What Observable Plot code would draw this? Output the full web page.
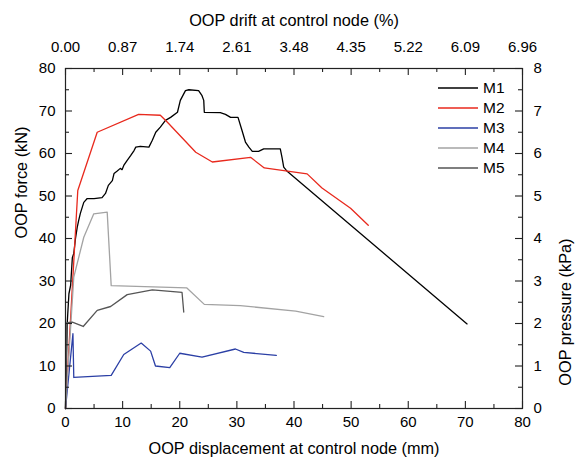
<!DOCTYPE html>
<html>
<head>
<meta charset="utf-8">
<script src="https://cdn.jsdelivr.net/npm/d3@7"></script>
<script src="https://cdn.jsdelivr.net/npm/@observablehq/plot@0.6"></script>
<style>
  html, body { margin: 0; padding: 0; background: #fff; }
  #wrap { position: relative; width: 575px; height: 464px; font-family: "Liberation Sans", Arial, sans-serif; }
  #legend { position: absolute; left: 438px; top: 78px; font-size: 15.5px; color: #000; }
  .row { display: flex; align-items: center; height: 20px; }
  .row svg { margin-right: 5px; }
</style>
</head>
<body>
<div id="wrap"><div id="legend"></div></div>
<script>
// ---- Data ----
const seriesNames = ["M1", "M2", "M3", "M4", "M5"];
const seriesColors = ["#000000", "#e8291d", "#2b3fa5", "#a3a3a3", "#555555"];

const m1Disp  = [0, 0.3, 0.4, 0.6, 0.9, 1.2, 1.45, 1.75, 2.05, 2.3, 2.6, 3.2, 3.8, 5.0, 6.4, 7.0, 7.5, 8.2, 8.5, 9.0, 9.6, 9.9, 10.2, 10.8, 11.4, 12.0, 12.3, 13.1, 14.6, 15.2, 15.8, 16.6, 17.5, 18.4, 19.6, 20.1, 21.0, 21.6, 23.3, 23.9, 24.2, 24.3, 27.1, 28.0, 28.9, 30.2, 30.9, 31.5, 32.1, 32.7, 33.8, 34.7, 37.6, 37.9, 38.2, 38.8, 70.3];
const m1Force = [0, 20, 22.4, 27, 29, 35.5, 36.5, 40, 42.6, 44.2, 45.9, 48.5, 49.4, 49.4, 49.6, 50.6, 52.5, 53.6, 55.3, 55.8, 56.5, 56.2, 57.2, 58.4, 59.5, 60.7, 61.5, 61.7, 61.5, 63.1, 65.0, 66.2, 67.8, 68.5, 69.7, 72.5, 74.8, 75.0, 74.8, 73.6, 72.5, 69.7, 69.6, 69.2, 68.5, 68.5, 65.4, 62.7, 61.5, 60.5, 60.5, 61.1, 61.1, 59.1, 56.8, 55.8, 19.9];

const m2Disp  = [0, 2.15, 5.55, 12.8, 16.6, 17.8, 22.8, 25.7, 32.4, 34.8, 42.3, 44.9, 49.9, 53.0];
const m2Force = [0, 51.3, 65.0, 69.2, 69.0, 67.4, 60.3, 58.0, 59.1, 56.6, 55.2, 51.9, 47.1, 43.1];

const m3Disp  = [0, 1.3, 1.45, 8.0, 10.2, 13.25, 14.9, 15.75, 18.25, 20.0, 23.9, 29.75, 31.2, 36.9];
const m3Force = [0, 17.6, 7.3, 7.8, 12.7, 15.4, 13.5, 10.0, 9.6, 13.0, 12.1, 14.0, 13.2, 12.5];

const m4Disp  = [0, 1.45, 3.2, 4.95, 7.3, 8.0, 21.2, 24.3, 30.6, 40.3, 45.2];
const m4Force = [0, 30.9, 40.3, 45.8, 46.2, 28.9, 28.4, 24.5, 24.2, 22.9, 21.6];

const m5Disp  = [0, 0.25, 1.2, 3.1, 5.55, 7.9, 10.8, 15.2, 20.4, 20.7];
const m5Force = [0, 20.2, 20.3, 19.3, 23.1, 24.0, 26.8, 27.9, 27.3, 22.7];

// ---- Axes / tick labels ----
const xMajor = [0, 10, 20, 30, 40, 50, 60, 70, 80];
const xMinor = [5, 15, 25, 35, 45, 55, 65, 75];
const yMajor = [0, 10, 20, 30, 40, 50, 60, 70, 80];
const yMinor = [5, 15, 25, 35, 45, 55, 65, 75];
const bottomLabels = ["0", "10", "20", "30", "40", "50", "60", "70", "80"];
const topLabels = ["0.00", "0.87", "1.74", "2.61", "3.48", "4.35", "5.22", "6.09", "6.96"];
const leftLabels = ["0", "10", "20", "30", "40", "50", "60", "70", "80"];
const rightLabels = ["0", "1", "2", "3", "4", "5", "6", "7", "8"];
const xTitle = "OOP displacement at control node (mm)";
const topTitle = "OOP drift at control node (%)";
const yTitle = "OOP force (kN)";
const rightTitle = "OOP pressure (kPa)";

// ---- Build table ----
const seriesX = [m1Disp, m2Disp, m3Disp, m4Disp, m5Disp];
const seriesY = [m1Force, m2Force, m3Force, m4Force, m5Force];
const rows = [];
seriesNames.forEach((name, s) => {
  seriesX[s].forEach((x, i) => rows.push({series: name, x, y: seriesY[s][i]}));
});

const W = 575, H = 464, mL = 65, mR = 53, mT = 68, mB = 56;
const innerW = W - mL - mR, innerH = H - mT - mB;
const majorLen = 7, minorLen = 4;
const axisColor = "#222";
const tickFont = 15, titleFont = 16.3;

const fmt = (ticks, labels) => d => labels[ticks.indexOf(d)];

const chart = Plot.plot({
  width: W, height: H,
  marginLeft: mL, marginRight: mR, marginTop: mT, marginBottom: mB,
  style: {fontFamily: '"Liberation Sans", Arial, sans-serif', fontSize: "15px", color: "#000", background: "transparent", overflow: "visible"},
  x: {domain: [0, 80]},
  y: {domain: [0, 80]},
  color: {domain: seriesNames, range: seriesColors},
  marks: [
    // lines
    Plot.line(rows, {x: "x", y: "y", z: "series", stroke: "series", strokeWidth: 1.3, strokeLinejoin: "round"}),
    // frame
    Plot.frame({stroke: axisColor, strokeWidth: 1.2}),
    // inward ticks (bottom/top/left/right)
    Plot.tickX(xMajor, {x: d => d, insetTop: innerH - majorLen, stroke: axisColor, strokeWidth: 1.1}),
    Plot.tickX(xMinor, {x: d => d, insetTop: innerH - minorLen, stroke: axisColor, strokeWidth: 1.1}),
    Plot.tickX(xMajor, {x: d => d, insetBottom: innerH - majorLen, stroke: axisColor, strokeWidth: 1.1}),
    Plot.tickX(xMinor, {x: d => d, insetBottom: innerH - minorLen, stroke: axisColor, strokeWidth: 1.1}),
    Plot.tickY(yMajor, {y: d => d, insetRight: innerW - majorLen, stroke: axisColor, strokeWidth: 1.1}),
    Plot.tickY(yMinor, {y: d => d, insetRight: innerW - minorLen, stroke: axisColor, strokeWidth: 1.1}),
    Plot.tickY(yMajor, {y: d => d, insetLeft: innerW - majorLen, stroke: axisColor, strokeWidth: 1.1}),
    Plot.tickY(yMinor, {y: d => d, insetLeft: innerW - minorLen, stroke: axisColor, strokeWidth: 1.1}),
    // tick labels
    Plot.axisX(xMajor, {anchor: "bottom", tickSize: 0, tickPadding: 8, tickFormat: fmt(xMajor, bottomLabels), label: null, fontSize: tickFont}),
    Plot.axisX(xMajor, {anchor: "top", tickSize: 0, tickPadding: 17, tickFormat: fmt(xMajor, topLabels), label: null, fontSize: tickFont}),
    Plot.axisY(yMajor, {anchor: "left", tickSize: 0, tickPadding: 10, tickFormat: fmt(yMajor, leftLabels), label: null, fontSize: tickFont}),
    Plot.axisY(yMajor, {anchor: "right", tickSize: 0, tickPadding: 11, tickFormat: fmt(yMajor, rightLabels), label: null, fontSize: tickFont}),
    // axis titles
    Plot.text([xTitle], {text: d => d, frameAnchor: "bottom", dy: 45, fontSize: titleFont}),
    Plot.text([topTitle], {text: d => d, frameAnchor: "top", dy: -54, fontSize: titleFont}),
    Plot.text([yTitle], {text: d => d, frameAnchor: "left", dx: -44, rotate: -90, fontSize: titleFont}),
    Plot.text([rightTitle], {text: d => d, frameAnchor: "right", dx: 43, rotate: -90, fontSize: titleFont})
  ]
});
const wrap = document.getElementById("wrap");
wrap.insertBefore(chart, wrap.firstChild);

// legend
const legend = document.getElementById("legend");
seriesNames.forEach((name, i) => {
  const row = document.createElement("div");
  row.className = "row";
  row.innerHTML = `<svg width="40" height="4"><line x1="0" x2="40" y1="2" y2="2" stroke="${seriesColors[i]}" stroke-width="1.3"/></svg><span>${name}</span>`;
  legend.appendChild(row);
});
</script>
</body>
</html>
